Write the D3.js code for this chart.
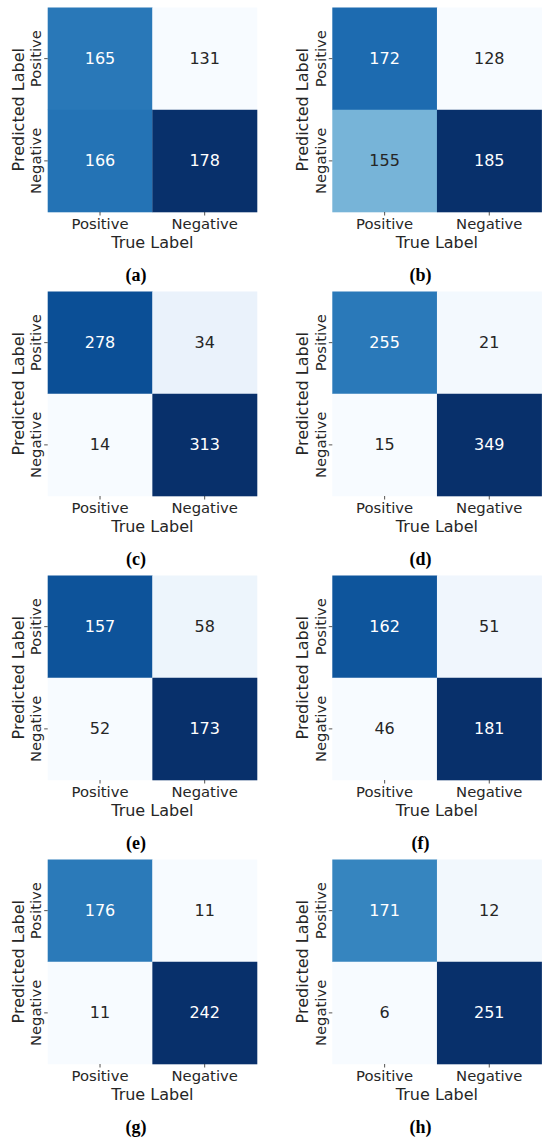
<!DOCTYPE html>
<html>
<head>
<meta charset="utf-8">
<script src="https://cdn.jsdelivr.net/npm/d3@7"></script>
<style>
  html, body { margin: 0; padding: 0; background: #ffffff; }
  svg { display: block; }
</style>
</head>
<body>
<svg id="chart" width="550" height="1142"></svg>
<script>
// ---- data ----
const categories = ["Positive", "Negative"];
const captions = ["(a)", "(b)", "(c)", "(d)", "(e)", "(f)", "(g)", "(h)"];
// rows = predicted label, columns = true label
const matrixA = [[165, 131], [166, 178]];
const matrixB = [[172, 128], [155, 185]];
const matrixC = [[278, 34], [14, 313]];
const matrixD = [[255, 21], [15, 349]];
const matrixE = [[157, 58], [52, 173]];
const matrixF = [[162, 51], [46, 181]];
const matrixG = [[176, 11], [11, 242]];
const matrixH = [[171, 12], [6, 251]];
const matrices = [matrixA, matrixB, matrixC, matrixD, matrixE, matrixF, matrixG, matrixH];
const xTitle = "True Label";
const yTitle = "Predicted Label";

// ---- layout ----
const colX0 = [47.7, 332.3];
const rowY0 = [7.5, 291.5, 575.5, 859.5];
const cellW = 209.3, cellH = 204.5;
const captionX = [136, 420.5];
const font = "'DejaVu Sans', sans-serif";
const textDark = "#262626";
const tickFont = 14.8;

const svg = d3.select("#chart");

function luminance(c) {
  const rgb = d3.rgb(c);
  const lin = v => { v /= 255; return v <= 0.03928 ? v / 12.92 : Math.pow((v + 0.055) / 1.055, 2.4); };
  return 0.2126 * lin(rgb.r) + 0.7152 * lin(rgb.g) + 0.0722 * lin(rgb.b);
}

matrices.forEach((m, i) => {
  const col = i % 2, row = Math.floor(i / 2);
  const x0 = colX0[col], y0 = rowY0[row];
  const x = d3.scaleBand().domain(categories).range([x0, x0 + cellW]);
  const y = d3.scaleBand().domain(categories).range([y0, y0 + cellH]);
  const flat = m.flat();
  const color = d3.scaleSequential(d3.interpolateBlues).domain([d3.min(flat), d3.max(flat)]);

  const cells = [];
  categories.forEach((pred, r) => categories.forEach((tru, c) => cells.push({ pred, tru, v: m[r][c] })));

  const g = svg.append("g");
  g.selectAll("rect").data(cells).join("rect")
    .attr("x", d => x(d.tru))
    .attr("y", d => y(d.pred))
    .attr("width", x.bandwidth() + 0.3)
    .attr("height", y.bandwidth() + 0.3)
    .attr("fill", d => color(d.v));

  g.selectAll("text.val").data(cells).join("text")
    .attr("class", "val")
    .attr("x", d => x(d.tru) + x.bandwidth() / 2)
    .attr("y", d => y(d.pred) + y.bandwidth() / 2)
    .attr("text-anchor", "middle")
    .attr("dominant-baseline", "central")
    .attr("font-family", font)
    .attr("font-size", 16)
    .attr("fill", d => luminance(color(d.v)) > 0.408 ? textDark : "#ffffff")
    .text(d => d.v);

  // x axis
  const xa = g.append("g").attr("transform", `translate(0,${y0 + cellH})`)
    .call(d3.axisBottom(x).tickSize(3.5).tickPadding(3.0));
  xa.select(".domain").remove();
  xa.selectAll("line").attr("stroke", textDark).attr("stroke-width", 0.8);
  xa.selectAll("text").attr("font-family", font).attr("font-size", tickFont).attr("fill", textDark);

  // y axis
  const ya = g.append("g").attr("transform", `translate(${x0},0)`)
    .call(d3.axisLeft(y).tickSize(3.5));
  ya.select(".domain").remove();
  ya.selectAll("line").attr("stroke", textDark).attr("stroke-width", 0.8);
  ya.selectAll("text")
    .attr("font-family", font).attr("font-size", tickFont).attr("fill", textDark)
    .attr("x", 0).attr("dy", 0)
    .attr("text-anchor", "middle")
    .attr("transform", "translate(-6.7,0) rotate(-90)");

  // titles
  g.append("text")
    .attr("x", x0 + cellW / 2).attr("y", y0 + cellH + 36)
    .attr("text-anchor", "middle")
    .attr("font-family", font).attr("font-size", 16).attr("fill", textDark)
    .text(xTitle);
  const yc = y0 + cellH / 2, yx = x0 - 24.2;
  g.append("text")
    .attr("transform", `translate(${yx},${yc}) rotate(-90)`)
    .attr("text-anchor", "middle")
    .attr("font-family", font).attr("font-size", 16).attr("fill", textDark)
    .text(yTitle);

  // caption
  g.append("text")
    .attr("x", captionX[col]).attr("y", y0 + cellH + 69)
    .attr("text-anchor", "middle")
    .attr("font-family", "'Liberation Serif', 'DejaVu Serif', serif")
    .attr("font-size", 18).attr("font-weight", "bold").attr("fill", "#000")
    .text(captions[i]);
});
</script>
</body>
</html>
